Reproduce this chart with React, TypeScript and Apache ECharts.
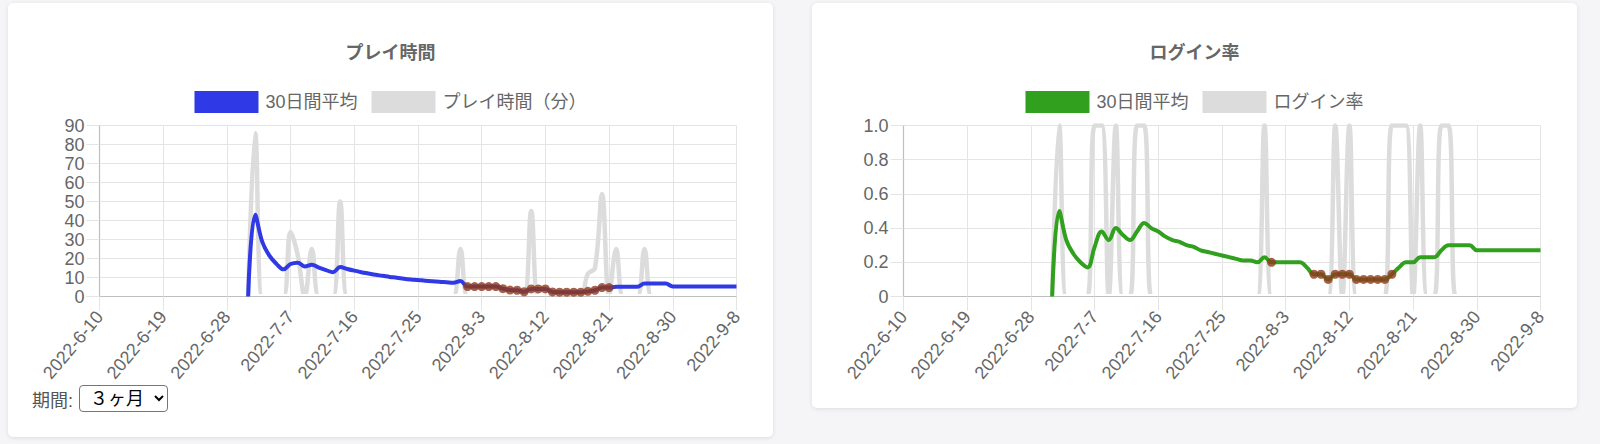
import React, { useEffect, useRef } from "react";
import * as echarts from "echarts";

// ---------- DATA ----------
const dates = [
  "2022-6-10", "2022-6-11", "2022-6-12", "2022-6-13", "2022-6-14", "2022-6-15", "2022-6-16", "2022-6-17", "2022-6-18", "2022-6-19",
  "2022-6-20", "2022-6-21", "2022-6-22", "2022-6-23", "2022-6-24", "2022-6-25", "2022-6-26", "2022-6-27", "2022-6-28", "2022-6-29",
  "2022-6-30", "2022-7-1", "2022-7-2", "2022-7-3", "2022-7-4", "2022-7-5", "2022-7-6", "2022-7-7", "2022-7-8", "2022-7-9",
  "2022-7-10", "2022-7-11", "2022-7-12", "2022-7-13", "2022-7-14", "2022-7-15", "2022-7-16", "2022-7-17", "2022-7-18", "2022-7-19",
  "2022-7-20", "2022-7-21", "2022-7-22", "2022-7-23", "2022-7-24", "2022-7-25", "2022-7-26", "2022-7-27", "2022-7-28", "2022-7-29",
  "2022-7-30", "2022-7-31", "2022-8-1", "2022-8-2", "2022-8-3", "2022-8-4", "2022-8-5", "2022-8-6", "2022-8-7", "2022-8-8",
  "2022-8-9", "2022-8-10", "2022-8-11", "2022-8-12", "2022-8-13", "2022-8-14", "2022-8-15", "2022-8-16", "2022-8-17", "2022-8-18",
  "2022-8-19", "2022-8-20", "2022-8-21", "2022-8-22", "2022-8-23", "2022-8-24", "2022-8-25", "2022-8-26", "2022-8-27", "2022-8-28",
  "2022-8-29", "2022-8-30", "2022-8-31", "2022-9-1", "2022-9-2", "2022-9-3", "2022-9-4", "2022-9-5", "2022-9-6", "2022-9-7",
  "2022-9-8",
];

const N = null;

// play time per day (minutes)
const playDaily = [
  N, N, N, N, N, N, N, N, N, N,
  N, N, N, N, N, N, N, N, N, N,
  N, 0, 86, 0, 0, 0, 0, 34, 22, 0,
  25, 0, 0, 0, 50, 0, 0, 0, 0, 0,
  0, 0, 0, 0, 0, 0, 0, 0, 0, 0,
  0, 25, 0, 0, 0, 0, 0, 0, 0, 0,
  0, 45, 0, 0, 0, 0, 0, 0, 0, 12,
  15, 54, 0, 25, 0, 0, 0, 25, 0, 0,
  0, 0, 0, 0, 0, 0, 0, 0, 0, 0,
  0,
];

// 30 day average of play time
const playAvg = [
  N, N, N, N, N, N, N, N, N, N,
  N, N, N, N, N, N, N, N, N, N,
  N, 0, 43, 28.7, 21.5, 17.2, 14.3, 17.1, 17.8, 15.8,
  16.7, 15.2, 13.9, 12.8, 15.5, 14.5, 13.6, 12.8, 12.1, 11.4,
  10.9, 10.3, 9.9, 9.4, 9.0, 8.7, 8.3, 8.0, 7.8, 7.5,
  7.2, 8.1, 5.2, 5.2, 5.2, 5.2, 5.2, 4.1, 3.4, 3.3,
  2.5, 4.0, 4.0, 4.0, 2.4, 2.3, 2.3, 2.3, 2.3, 2.7,
  3.3, 4.7, 4.7, 5.1, 5.1, 5.1, 5.1, 6.8, 6.8, 6.8,
  6.8, 5.3, 5.3, 5.3, 5.3, 5.3, 5.3, 5.3, 5.3, 5.3,
  5.3,
];

const playDotDates = [
  "2022-8-1", "2022-8-2", "2022-8-3", "2022-8-4", "2022-8-5", "2022-8-6", "2022-8-7",
  "2022-8-8", "2022-8-9", "2022-8-10", "2022-8-11", "2022-8-12", "2022-8-13", "2022-8-14",
  "2022-8-15", "2022-8-16", "2022-8-17", "2022-8-18", "2022-8-19", "2022-8-20", "2022-8-21",
];

// login per day (0 / 1)
const loginDaily = [
  N, N, N, N, N, N, N, N, N, N,
  N, N, N, N, N, N, N, N, N, N,
  N, 0, 1, 0, 0, 0, 0, 1, 1, 0,
  1, 0, 0, 1, 1, 0, 0, 0, 0, 0,
  0, 0, 0, 0, 0, 0, 0, 0, 0, 0,
  0, 1, 0, 0, 0, 0, 0, 0, 0, 0,
  0, 1, 0, 1, 0, 0, 0, 0, 0, 1,
  1, 1, 0, 1, 0, 0, 1, 1, 0, 0,
  0, 0, 0, 0, 0, 0, 0, 0, 0, 0,
  0,
];

// 30 day average of login rate
const loginAvg = [
  N, N, N, N, N, N, N, N, N, N,
  N, N, N, N, N, N, N, N, N, N,
  N, 0, 0.5, 0.33, 0.25, 0.2, 0.17, 0.29, 0.38, 0.33,
  0.4, 0.36, 0.33, 0.38, 0.43, 0.4, 0.38, 0.35, 0.33, 0.32,
  0.3, 0.29, 0.27, 0.26, 0.25, 0.24, 0.23, 0.22, 0.21, 0.21,
  0.2, 0.23, 0.2, 0.2, 0.2, 0.2, 0.2, 0.17, 0.13, 0.13,
  0.1, 0.13, 0.13, 0.13, 0.1, 0.1, 0.1, 0.1, 0.1, 0.13,
  0.17, 0.2, 0.2, 0.23, 0.23, 0.23, 0.27, 0.3, 0.3, 0.3,
  0.3, 0.27, 0.27, 0.27, 0.27, 0.27, 0.27, 0.27, 0.27, 0.27,
  0.27,
];

const loginDotDates = [
  "2022-8-1", "2022-8-7", "2022-8-8", "2022-8-9", "2022-8-10", "2022-8-11", "2022-8-12",
  "2022-8-13", "2022-8-14", "2022-8-15", "2022-8-16", "2022-8-17", "2022-8-18",
];

// ---------- STYLE ----------
const FONT = "'Helvetica Neue', Helvetica, Arial, 'Liberation Sans', 'Noto Sans CJK JP', sans-serif";
const GRID_COLOR = "#e4e4e4";
const AXIS_COLOR = "#bfbfbf";
const DAILY_COLOR = "#dcdcdc";
const DOT_COLOR = "#8e3a1c";
const GRID_LEFT = 91.5;
const GRID_TOP = 122.5;
const GRID_W = 637;
const GRID_H = 171;

// daily line colour: fades out in the last few pixels above the zero line,
// so the flat zero runs disappear into the axis as in the reference
function dailyStroke() {
  const y0 = GRID_TOP;
  const y1 = GRID_TOP + GRID_H + 6;
  const cut = (GRID_TOP + GRID_H - 2.4 - y0) / (y1 - y0);
  return new echarts.graphic.LinearGradient(
    0, y0, 0, y1,
    [
      { offset: 0, color: DAILY_COLOR },
      { offset: cut, color: DAILY_COLOR },
      { offset: cut, color: "rgba(220,220,220,0)" },
      { offset: 1, color: "rgba(220,220,220,0)" },
    ],
    true
  );
}

type Cfg = {
  title: string;
  avgName: string;
  dailyName: string;
  avgColor: string;
  daily: (number | null)[];
  avg: (number | null)[];
  dotDates: string[];
  yMax: number;
  yInterval: number;
  yFormatter: (v: number) => string;
};

function buildOption(c: Cfg) {
  const dots = c.dotDates.map((d) => [d, c.avg[dates.indexOf(d)]]);
  return {
    animation: false,
    title: {
      text: c.title,
      left: "center",
      top: 36,
      textStyle: { fontSize: 18, fontWeight: "bold", color: "#666", fontFamily: FONT },
    },
    legend: {
      top: 83,
      left: "center",
      itemWidth: 64,
      itemHeight: 22,
      itemGap: 14,
      selectedMode: false,
      textStyle: { fontSize: 18, color: "#666", fontFamily: FONT, padding: [0, 0, 0, 2] },
      data: [
        { name: c.avgName, icon: "rect", itemStyle: { color: c.avgColor } },
        { name: c.dailyName, icon: "rect", itemStyle: { color: DAILY_COLOR } },
      ],
    },
    grid: { left: GRID_LEFT, top: GRID_TOP, width: GRID_W, height: GRID_H },
    xAxis: {
      type: "category",
      data: dates,
      boundaryGap: false,
      axisLine: { show: true, lineStyle: { color: AXIS_COLOR, width: 1.2 } },
      axisTick: { show: true, interval: 8, length: 14, lineStyle: { color: GRID_COLOR } },
      axisLabel: {
        interval: 8,
        rotate: 50,
        margin: 17,
        fontSize: 18,
        color: "#666",
        fontFamily: FONT,
      },
      splitLine: { show: true, interval: 8, lineStyle: { color: GRID_COLOR } },
    },
    yAxis: {
      type: "value",
      min: 0,
      max: c.yMax,
      interval: c.yInterval,
      axisLine: { show: true, lineStyle: { color: AXIS_COLOR, width: 1.2 } },
      axisTick: { show: true, length: 13, lineStyle: { color: GRID_COLOR } },
      axisLabel: { margin: 15, fontSize: 18, color: "#666", fontFamily: FONT, formatter: c.yFormatter },
      splitLine: { show: true, lineStyle: { color: GRID_COLOR } },
    },
    series: [
      {
        name: c.dailyName,
        type: "line",
        data: c.daily,
        smooth: 0.4,
        symbol: "none",
        lineStyle: { color: dailyStroke(), width: 4.5 },
        itemStyle: { color: DAILY_COLOR },
        z: 1,
      },
      {
        name: c.avgName,
        type: "line",
        data: c.avg,
        smooth: 0.4,
        symbol: "none",
        lineStyle: { color: c.avgColor, width: 4 },
        itemStyle: { color: c.avgColor },
        z: 2,
      },
      {
        name: "dots",
        type: "scatter",
        data: dots,
        symbol: "circle",
        symbolSize: 9,
        itemStyle: { color: DOT_COLOR },
        z: 3,
      },
    ],
  };
}

function ChartBox({ option, width, height }: { option: any; width: number; height: number }) {
  const ref = useRef<HTMLDivElement>(null);
  useEffect(() => {
    const chart = echarts.init(ref.current as HTMLDivElement, null, { renderer: "svg" });
    chart.setOption(option);
    return () => chart.dispose();
  }, []);
  return <div ref={ref} style={{ position: "absolute", left: 0, top: 0, width, height }} />;
}

const playOption = buildOption({
  title: "プレイ時間",
  avgName: "30日間平均",
  dailyName: "プレイ時間（分）",
  avgColor: "#3039e6",
  daily: playDaily,
  avg: playAvg,
  dotDates: playDotDates,
  yMax: 90,
  yInterval: 10,
  yFormatter: (v: number) => String(v),
});

const loginOption = buildOption({
  title: "ログイン率",
  avgName: "30日間平均",
  dailyName: "ログイン率",
  avgColor: "#31a01f",
  daily: loginDaily,
  avg: loginAvg,
  dotDates: loginDotDates,
  yMax: 1,
  yInterval: 0.2,
  yFormatter: (v: number) => (v === 0 ? "0" : v.toFixed(1)),
});

const cardStyle: React.CSSProperties = {
  position: "absolute",
  background: "#ffffff",
  borderRadius: 5,
  boxShadow: "0 1px 4px rgba(0,0,0,0.10)",
  overflow: "hidden",
};

export default function App() {
  useEffect(() => {
    document.body.style.margin = "0";
    document.body.style.background = "#f5f5f8";
  }, []);
  return (
    <div
      style={{
        position: "relative",
        width: 1600,
        height: 444,
        background: "#f5f5f8",
        overflow: "hidden",
        fontFamily: FONT,
      }}
    >
      <div style={{ ...cardStyle, left: 8, top: 3, width: 765, height: 434 }}>
        <ChartBox option={playOption} width={765} height={434} />
        <div
          style={{
            position: "absolute",
            left: 24,
            top: 382,
            height: 27,
            display: "flex",
            alignItems: "center",
            fontSize: 18,
            color: "#555",
            fontFamily: FONT,
          }}
        >
          <span style={{ marginRight: 6 }}>期間:</span>
          <select
            defaultValue="3"
            style={{
              width: 89,
              height: 27,
              fontSize: 18,
              fontFamily: FONT,
              color: "#000",
              background: "#fff",
              border: "1px solid #767676",
              borderRadius: 4,
              padding: "0 2px 0 6px",
            }}
          >
            <option value="3">３ヶ月</option>
          </select>
        </div>
      </div>
      <div style={{ ...cardStyle, left: 812, top: 3, width: 765, height: 405 }}>
        <ChartBox option={loginOption} width={765} height={405} />
      </div>
    </div>
  );
}
